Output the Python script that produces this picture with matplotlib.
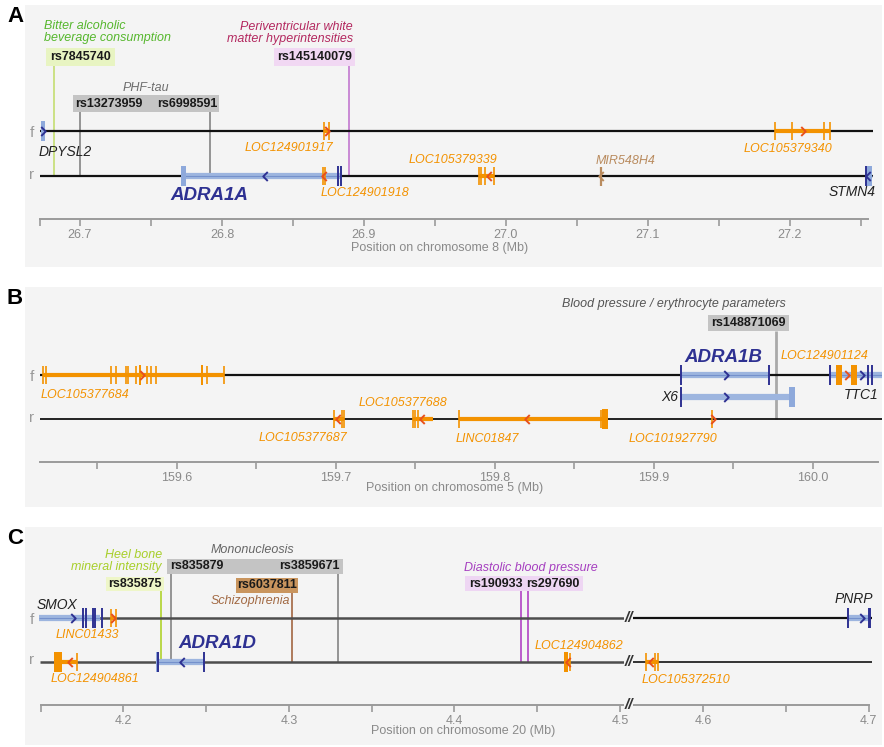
import numpy as np
import matplotlib.pyplot as plt
from matplotlib.patches import Rectangle
from matplotlib.path import Path

plt.rcParams['font.family'] = ['Liberation Sans', 'DejaVu Sans']

# ---------------- data ----------------
# gene records: name, strand, start, end, kind, exon/boundary marks, blocks, arrows (Mb)
# A: chromosome 8
a_major = [26.7, 26.8, 26.9, 27.0, 27.1, 27.2]
a_minor = [26.672, 26.75, 26.85, 26.95, 27.05, 27.15, 27.25]
a_span = (26.6718, 27.2549)
a_genes = [
    ('DPYSL2', 'f', 26.6725, 26.6757, 'pc', [], [(26.6725, 26.6757)], [(26.6737, '>')]),
    ('LOC124901917', 'f', 26.8718, 26.8754, 'nc', [26.8718, 26.8754], [], [(26.8736, '>')]),
    ('LOC124901918', 'r', 26.8708, 26.8725, 'nc', [26.8708, 26.8725], [], [(26.8717, '<')]),
    ('ADRA1A', 'r', 26.7725, 26.8838, 'pc', [26.8817, 26.8838], [(26.7711, 26.7746)], [(26.8303, '<')]),
    ('LOC105379339', 'r', 26.9810, 26.9915, 'nc', [26.9810, 26.9827, 26.9852, 26.9915], [], [(26.9880, '<')]),
    ('MIR548H4', 'r', 27.0669, 27.0669, 'mi', [27.0669], [], [(27.0669, '<')]),
    ('LOC105379340', 'f', 27.1894, 27.2282, 'nc', [27.1894, 27.2014, 27.2239, 27.2282], [], [(27.2092, '>')]),
    ('STMN4', 'r', 27.2535, 27.2577, 'pc', [27.2535], [(27.2535, 27.2577)], [(27.2552, '<')]),
]
a_snps = ['rs7845740', 'rs13273959', 'rs6998591', 'rs145140079']
a_snp_pos = [26.6817, 26.7000, 26.7915, 26.8894]
a_traits = ['Bitter alcoholic\nbeverage consumption', 'PHF-tau',
            'Periventricular white\nmatter hyperintensities']

# B: chromosome 5
b_major = [159.6, 159.7, 159.8, 159.9, 160.0]
b_minor = [159.55, 159.65, 159.75, 159.85, 159.95]
b_span = (159.5142, 160.0412)
b_genes = [
    ('LOC105377684', 'f', 159.5160, 159.6299, 'nc',
     [159.5160, 159.5179, 159.5588, 159.5619, 159.5682, 159.5695, 159.5745, 159.5770,
      159.5814, 159.5840, 159.5871, 159.6160, 159.6192, 159.6299],
     [(159.5766, 159.5774), (159.6156, 159.6164)], [(159.5783, '>')]),
    ('LOC105377687', 'r', 159.6991, 159.7053, 'nc', [159.6991, 159.7041, 159.7053], [], [(159.7016, '<')]),
    ('LOC105377688', 'r', 159.7487, 159.7613, 'nc', [159.7487, 159.7500, 159.7519], [], [(159.7544, '<')]),
    ('LINC01847', 'r', 159.7777, 159.8714, 'nc', [159.7777, 159.8670], [(159.8676, 159.8714)], [(159.8204, '<')]),
    ('LOC101927790', 'r', 159.9368, 159.9368, 'nc', [159.9368], [], [(159.9372, '>')]),
    ('ADRA1B', 'f', 159.9173, 159.9727, 'pc', [159.9173, 159.9727], [], [(159.9456, '>')]),
    ('X6', 'x', 159.9173, 159.9890, 'pc', [159.9173], [(159.9852, 159.9890)], [(159.9456, '>')]),
    ('LOC124901124', 'f', 160.0148, 160.0280, 'nc', [], [(160.0148, 160.0186), (160.0242, 160.0280)], [(160.0217, '>')]),
    ('TTC1', 'f', 160.0110, 160.0460, 'pc', [160.0110, 160.0349, 160.0374], [], [(160.0311, '>')]),
]
b_snps = ['rs148871069']
b_snp_pos = [159.9770]
b_traits = ['Blood pressure / erythrocyte parameters']

# C: chromosome 20 (axis broken between 4.5 and 4.55)
c_major = [4.2, 4.3, 4.4, 4.5, 4.6, 4.7]
c_minor = [4.15, 4.25, 4.35, 4.45, 4.65]
c_span = (4.15, 4.70)
c_genes = [
    ('SMOX', 'f', 4.1489, 4.1860, 'pc', [4.1755, 4.1773, 4.1816, 4.1828, 4.1870], [], [(4.1695, '>')]),
    ('LINC01433', 'f', 4.1924, 4.1952, 'nc', [4.1924, 4.1952], [], [(4.1938, '>')]),
    ('LOC124904861', 'r', 4.1580, 4.1719, 'nc', [4.1719], [(4.1580, 4.1628)], [(4.1677, '<')]),
    ('ADRA1D', 'r', 4.2208, 4.2486, 'pc', [4.2208, 4.2486], [(4.2196, 4.2214)], [(4.2353, '<')]),
    ('LOC124904862', 'r', 4.4662, 4.4695, 'nc', [4.4695], [(4.4662, 4.4686)], [(4.4686, '<')]),
    ('LOC105372510', 'r', 4.5655, 4.5728, 'nc', [4.5655, 4.5709, 4.5728], [], [(4.5685, '<')]),
    ('PNRP', 'f', 4.6876, 4.7003, 'pc', [4.6876, 4.7003, 4.7009], [], [(4.6961, '>')]),
]
c_snps = ['rs835875', 'rs835879', 'rs3859671', 'rs6037811', 'rs190933', 'rs297690']
c_snp_pos = [4.2227, 4.2287, 4.3296, 4.3018, 4.4402, 4.4444]
c_traits = ['Heel bone\nmineral intensity', 'Mononucleosis', 'Schizophrenia', 'Diastolic blood pressure']

GAP_LO, GAP_HI = 4.5054, 4.5552

# ---------------- styling ----------------
W, H = 884, 747
BG = '#f4f4f4'
DBLUE = '#2e3192'
LBLUE = '#9db5df'
MBLUE = '#7591cc'
ORANGE = '#f39200'
ARR = '#e8501c'
BROWN = '#b98b5e'

RIGHT = Path([(-0.5, 1), (0.5, 0), (-0.5, -1)], [Path.MOVETO, Path.LINETO, Path.LINETO])
LEFT = Path([(0.5, 1), (-0.5, 0), (0.5, -1)], [Path.MOVETO, Path.LINETO, Path.LINETO])

label_px = {
    'DPYSL2': (65, 152), 'LOC124901917': (288.5, 148), 'LOC124901918': (364.5, 193),
    'ADRA1A': (209, 195), 'LOC105379339': (452.5, 160), 'MIR548H4': (626, 161),
    'LOC105379340': (787.5, 149), 'STMN4': (852, 192),
    'LOC105377684': (84.5, 395), 'LOC105377687': (302.5, 438), 'LOC105377688': (403, 403),
    'LINC01847': (487.5, 439), 'LOC101927790': (672.5, 439), 'ADRA1B': (723.5, 357),
    'LOC124901124': (824.5, 356), 'X6': (670, 397), 'TTC1': (861, 395),
    'SMOX': (57, 605), 'LINC01433': (87.5, 635), 'LOC124904861': (95, 679),
    'ADRA1D': (217, 644), 'LOC124904862': (579, 646), 'LOC105372510': (686, 680.5),
    'PNRP': (854, 599),
}

fig = plt.figure(figsize=(W / 100, H / 100), dpi=100)


def fwd(x):
    x = np.asarray(x, float)
    return np.where(x <= GAP_LO, x, np.where(x >= GAP_HI, x - (GAP_HI - GAP_LO), GAP_LO))


def inv(y):
    y = np.asarray(y, float)
    return np.where(y <= GAP_LO, y, y + (GAP_HI - GAP_LO))


def panel(rect, xlim, letter, scale=None):
    x0, y0, x1, y1 = rect
    ax = fig.add_axes([x0 / W, 1 - y1 / H, (x1 - x0) / W, (y1 - y0) / H])
    ax.set_facecolor(BG)
    if scale is not None:
        ax.set_xscale('function', functions=scale)
    ax.set_xlim(*xlim)
    ax.set_ylim(y1, y0)
    for s in ['top', 'left', 'right']:
        ax.spines[s].set_visible(False)
    ax.set_yticks([])
    fig.text(7 / W, 1 - (y0 + 11) / H, letter, fontsize=16, fontweight='bold',
             va='center', ha='left', family='Liberation Sans')
    return ax


def px(ax, p):
    return ax.transData.inverted().transform((p, 0))[0]


def chevron(ax, x, y, d, color):
    ax.plot([x], [y], marker=RIGHT if d == '>' else LEFT, ms=6.5, mfc='none',
            mec=color, mew=1.4, ls='none', zorder=6)


def draw_gene(ax, rows, g):
    name, strand, s, e, kind, marks, blocks, arrows = g
    y = rows[strand]
    if kind == 'pc':
        if e > s:
            ax.plot([s, e], [y, y], color=LBLUE, lw=4.5, solid_capstyle='butt', zorder=3)
            if strand != 'x':
                ax.plot([s, e], [y, y], color=MBLUE, lw=0.8, solid_capstyle='butt', zorder=3)
        for b0, b1 in blocks:
            ax.add_patch(Rectangle((b0, y - 10), b1 - b0, 20, fc='#8ea9db', ec='none', zorder=4))
        ax.vlines(marks, y - 10, y + 10, color=DBLUE, lw=1.4, zorder=5)
        ac = DBLUE
    elif kind == 'nc':
        if e > s:
            ax.plot([s, e], [y, y], color=ORANGE, lw=3, solid_capstyle='butt', zorder=3)
        for b0, b1 in blocks:
            ax.add_patch(Rectangle((b0, y - 10), b1 - b0, 20, fc=ORANGE, ec='none', zorder=4))
        ax.vlines(marks, y - 9, y + 9, color=ORANGE, lw=1.2, zorder=5)
        ac = ARR
    else:
        ax.vlines(marks, y - 9, y + 10, color=BROWN, lw=1.6, zorder=5)
        ac = BROWN
    for pos, d in arrows:
        chevron(ax, pos, y, d, ac)
    lx, ly = label_px[name]
    if name.startswith('ADRA'):
        kw = dict(fontsize=13.5, fontweight='bold', style='italic', color=DBLUE)
    elif kind == 'pc':
        kw = dict(fontsize=10, style='italic', color='#222222')
    elif kind == 'nc':
        kw = dict(fontsize=9, style='italic', color=ORANGE)
    else:
        kw = dict(fontsize=9, style='italic', color=BROWN)
    ax.text(px(ax, lx), ly, name, ha='center', va='center', zorder=7, **kw)


def strand_labels(ax, yf, yr):
    t = ax.get_yaxis_transform()
    ax.text(0.008, yf, 'f', transform=t, color='#999999', fontsize=11, va='center', ha='center')
    ax.text(0.008, yr, 'r', transform=t, color='#999999', fontsize=11, va='center', ha='center')


def snp_box(ax, box, fc, names):
    b0, t0, b1, t1 = box
    ax.add_patch(Rectangle((px(ax, b0), t0), px(ax, b1) - px(ax, b0), t1 - t0,
                           fc=fc, ec='none', zorder=6))
    for n, (cx, cy) in names:
        ax.text(px(ax, cx), cy, n, ha='center', va='center', fontsize=9,
                fontweight='bold', color='#1a1a1a', zorder=7)


def trait(ax, p, y, s, color, ha='center'):
    ax.text(px(ax, p), y, s, ha=ha, va='center', fontsize=9, style='italic',
            color=color, linespacing=0.95, zorder=7)


def chrom_axis(ax, y, span, major, minor, title, tp):
    sp = ax.spines['bottom']
    sp.set_position(('data', y))
    sp.set_bounds(*span)
    sp.set_color('#9a9a9a')
    sp.set_linewidth(1.4)
    ax.set_xticks(major)
    ax.set_xticklabels(['%.1f' % v for v in major])
    ax.set_xticks(minor, minor=True)
    ax.tick_params(axis='x', which='both', direction='out', length=5, width=1.2,
                   color='#9a9a9a', labelcolor='#8a8a8a', labelsize=9, pad=2)
    ax.text(px(ax, tp[0]), tp[1], title, ha='center', va='center', fontsize=9, color='#8a8a8a')


# ---------------- panel A ----------------
axA = panel((25, 5, 882, 267), (26.7 + (25 - 80) / 1420, 26.7 + (882 - 80) / 1420), 'A')
rowsA = {'f': 131, 'r': 176}
strand_labels(axA, 133, 175)
for yy in rowsA.values():
    axA.plot([a_span[0], 27.2585], [yy, yy], color='#111111', lw=1.6, solid_capstyle='butt', zorder=2)
snp_cols_a = ['#c8e07c', '#8c8c8c', '#8c8c8c', '#c681d2']
snp_top_a = [66, 112, 112, 66]
for p, c, t in zip(a_snp_pos, snp_cols_a, snp_top_a):
    axA.vlines(p, t, rowsA['r'], color=c, lw=1.3, zorder=1)
for g in a_genes:
    draw_gene(axA, rowsA, g)
snp_box(axA, (46, 48, 115, 66), '#e8f4c2', [(a_snps[0], (80.5, 57))])
snp_box(axA, (73, 95, 219, 112), '#c4c4c4', [(a_snps[1], (109, 103.5)), (a_snps[2], (187, 103.5))])
snp_box(axA, (274, 48, 355, 66), '#f1d8f3', [(a_snps[3], (314.5, 57))])
trait(axA, 44, 32, a_traits[0], '#56b72d', ha='left')
trait(axA, 146, 88, a_traits[1], '#6e6e6e')
trait(axA, 353, 33, a_traits[2], '#b3285f', ha='right')
chrom_axis(axA, 219, a_span, a_major, a_minor, 'Position on chromosome 8 (Mb)', (440, 248))

# ---------------- panel B ----------------
axB = panel((25, 287, 882, 507), (159.6 + (25 - 176.5) / 1590, 159.6 + (882 - 176.5) / 1590), 'B')
rowsB = {'f': 375, 'r': 419, 'x': 397}
strand_labels(axB, 377, 418)
axB.plot([b_span[0], 160.06], [375, 375], color='#111111', lw=1.6, solid_capstyle='butt', zorder=2)
axB.plot([b_span[0], 160.06], [419, 419], color='#111111', lw=1.3, solid_capstyle='butt', zorder=2)
axB.vlines(b_snp_pos, 331, rowsB['r'], color='#a9a9a9', lw=2, zorder=1)
for g in b_genes:
    draw_gene(axB, rowsB, g)
snp_box(axB, (708, 315, 789, 331), '#c4c4c4', [(b_snps[0], (748.5, 323))])
trait(axB, 674, 304, b_traits[0], '#555555')
chrom_axis(axB, 462, b_span, b_major, b_minor, 'Position on chromosome 5 (Mb)', (455, 488))

# ---------------- panel C ----------------
axC = panel((25, 527, 882, 745),
            (4.2 + (25 - 123.5) / 1655, 4.2 + (882 - 123.5) / 1655 + (GAP_HI - GAP_LO)),
            'C', scale=(fwd, inv))
rowsC = {'f': 618, 'r': 662}
strand_labels(axC, 620, 660)
for yy, lw2 in [(618, 1.6), (662, 1.2)]:
    axC.plot([4.1496, GAP_LO], [yy, yy], color='#4d4d4d', lw=1.8, solid_capstyle='butt', zorder=2)
    axC.plot([GAP_HI, 4.7021], [yy, yy], color='#111111', lw=lw2, solid_capstyle='butt', zorder=2)
snp_cols_c = ['#b5d63a', '#8c8c8c', '#8c8c8c', '#a8714f', '#b64fc8', '#b64fc8']
snp_top_c = [591, 574, 574, 593, 591, 591]
for p, c, t in zip(c_snp_pos, snp_cols_c, snp_top_c):
    axC.vlines(p, t, rowsC['r'], color=c, lw=1.3, zorder=1)
for g in c_genes:
    draw_gene(axC, rowsC, g)
snp_box(axC, (106, 577, 164, 591), '#eef6c8', [(c_snps[0], (135, 584))])
snp_box(axC, (167, 559, 343, 574), '#c4c4c4', [(c_snps[1], (197, 566.5)), (c_snps[2], (309, 566.5))])
snp_box(axC, (236, 578, 298, 593), '#c9955e', [(c_snps[3], (267, 585.5))])
snp_box(axC, (465, 576, 583, 591), '#eed6f3', [(c_snps[4], (495.5, 584)), (c_snps[5], (553, 584))])
trait(axC, 162, 561, c_traits[0], '#a8cf2a', ha='right')
trait(axC, 252, 550, c_traits[1], '#666666')
trait(axC, 250, 601, c_traits[2], '#a26a44')
trait(axC, 531, 568, c_traits[3], '#a63fc0')
chrom_axis(axC, 705, c_span, c_major, c_minor, 'Position on chromosome 20 (Mb)', (463, 731))
for yy in [618, 662, 705]:
    axC.text(GAP_LO + 0.001, yy, '//', ha='center', va='center', fontsize=11, color='#333333',
             style='italic', fontweight='bold', zorder=8,
             bbox=dict(boxstyle='square,pad=0.02', fc=BG, ec='none'))

fig.savefig('out.png', dpi=100)
